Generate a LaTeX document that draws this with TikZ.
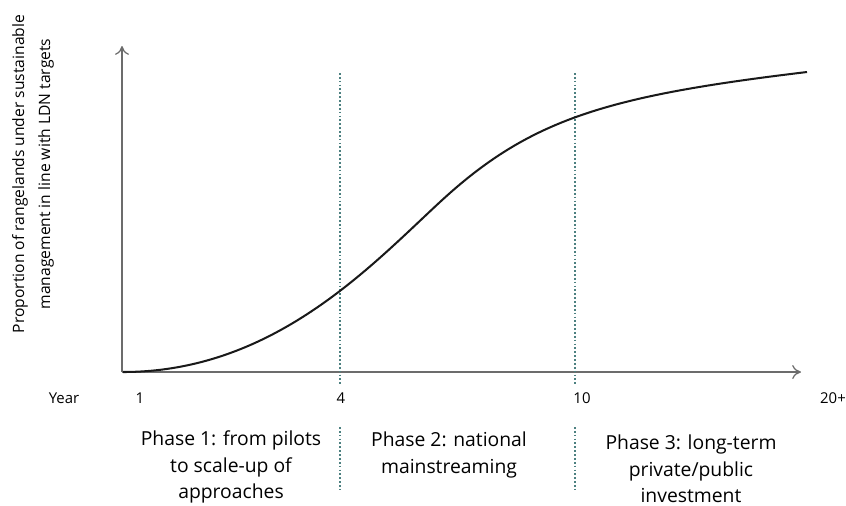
\documentclass[tikz,border=0pt]{standalone}
\usepackage{fontspec}
\setmainfont{Open Sans}
\usetikzlibrary{arrows.meta}
\usetikzlibrary{positioning}

\tikzset{
  axisline/.style={draw=gray!85!black, line width=0.7pt, -{To[length=5pt,width=8pt]}},
  phaseline/.style={draw=teal!40!gray, line width=0.6pt, dash pattern=on 1pt off 1.2pt},
  ticklab/.style={font=\fontsize{8.5}{10}\selectfont, inner sep=0pt},
  phaselab/.style={font=\fontsize{11}{15}\selectfont, align=center, inner sep=0pt}
}

\begin{document}
\begin{tikzpicture}[x=0.02cm,y=-0.02cm]
\useasboundingbox (0,0) rectangle (846,505);
% axes
\coordinate (origin) at (122,372);
\coordinate (ytop) at (122,46);
\coordinate (xend) at (801,372);
\draw[axisline] (origin)--(ytop);
\draw[axisline] (origin)--(xend);
% phase boundaries
\coordinate (fourtop) at (340,73);
\coordinate (fourbot) at (340,384);
\coordinate (tentop) at (575,73);
\coordinate (tenbot) at (575,384);
\draw[phaseline] (fourtop)--(fourbot);
\draw[phaseline] (tentop)--(tenbot);
\draw[phaseline] (340,427)--(340,490);
\draw[phaseline] (575,427)--(575,490);
% adoption curve
\coordinate (start) at (123,372);
\coordinate (bend) at (440,202);
\coordinate (finish) at (807,72);
\draw[line width=1.15pt, black!90] (start) .. controls (273,372) and (370,266.75) .. (bend)
  .. controls (530,118.75) and (607,96) .. (finish);
% y label
\node[font=\fontsize{8.9}{14.7}\selectfont, align=center, rotate=90] (ylab) at (33,174)
 {Proportion of rangelands under sustainable\\management in line with LDN targets};
% years
\node[ticklab] (year) at (64,398) {Year};
\node[ticklab] (yone) at (140,398) {1};
\node[ticklab] (yfour) at (341,398) {4};
\node[ticklab] (yten) at (582,398) {10};
\node[ticklab] (ytwenty) at (833,398) {20+};
% phases
\node[phaselab] (phaseone) at (231,467) {Phase 1: from pilots\\to scale-up of\\approaches};
\node[phaselab] (phasetwo) at (449,455) {Phase 2: national\\mainstreaming};
\node[phaselab] (phasethree) at (691,469) {Phase 3: long-term\\private/public\\investment};
\end{tikzpicture}
\end{document}
